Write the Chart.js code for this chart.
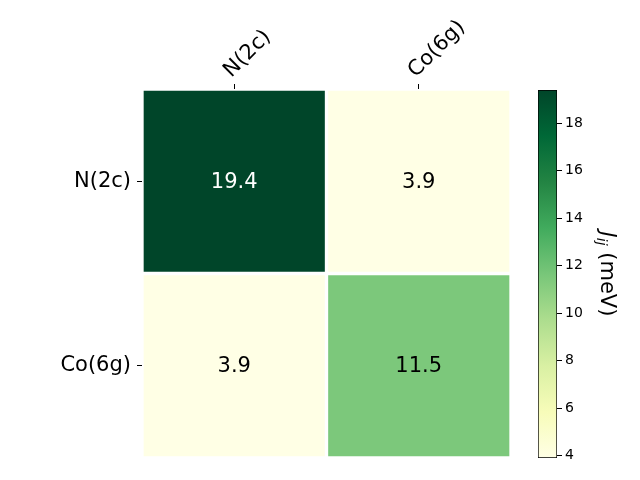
<!DOCTYPE html>
<html>
<head>
<meta charset="utf-8">
<script src="https://cdn.jsdelivr.net/npm/chart.js@4/dist/chart.umd.min.js"></script>
<style>
html, body { margin: 0; padding: 0; background: #fff; }
#wrap { position: relative; width: 640px; height: 480px; }
#wrap canvas { position: absolute; left: 0; top: 0; }
</style>
</head>
<body>
<div id="wrap">
  <canvas id="heat" width="640" height="480"></canvas>
  <canvas id="cbar" width="640" height="480"></canvas>
</div>
<script>
// Data
const siteLabels = ['N(2c)', 'Co(6g)'];
const rowN = [19.4, 3.9];
const rowCo = [3.9, 11.5];
const rows = [rowN, rowCo];
const cbTicks = [4, 6, 8, 10, 12, 14, 16, 18];

// YlGn colormap stops
const ylgn = ['#ffffe5', '#f7fcb9', '#d9f0a3', '#addd8e', '#78c679', '#41ab5d', '#238443', '#006837', '#004529'];

const allVals = rows.flat();
const vmin = Math.min(...allVals);
const vmax = Math.max(...allVals);
const FONT = 'DejaVu Sans';

function hexToRgb(h) {
    return [parseInt(h.slice(1, 3), 16), parseInt(h.slice(3, 5), 16), parseInt(h.slice(5, 7), 16)];
}

// map a value to a colour in the colormap
function cmap(v) {
    let t = (v - vmin) / (vmax - vmin);
    t = Math.max(0, Math.min(1, t)) * (ylgn.length - 1);
    const i = Math.min(Math.floor(t), ylgn.length - 2);
    const f = t - i;
    const a = hexToRgb(ylgn[i]), b = hexToRgb(ylgn[i + 1]);
    const c = a.map((x, k) => Math.round(x + (b[k] - x) * f));
    return 'rgb(' + c.join(',') + ')';
}

// Cell value labels
const cellText = {
    id: 'cellText',
    afterDatasetsDraw(chart) {
        const ctx = chart.ctx;
        const xs = chart.scales.x, ys = chart.scales.y;
        ctx.save();
        ctx.font = '21px "' + FONT + '"';
        ctx.textAlign = 'center';
        ctx.textBaseline = 'middle';
        rows.forEach((row, r) => {
            row.forEach((v, i) => {
                const t = (v - vmin) / (vmax - vmin);
                ctx.fillStyle = t > 0.5 ? '#fff' : '#000';
                ctx.fillText(v.toFixed(1), xs.getPixelForValue(i), ys.getPixelForValue(r) + 1);
            });
        });
        ctx.restore();
    }
};

const tickGrid = { display: true, drawOnChartArea: false, offset: false, tickLength: 5, color: '#000', lineWidth: 1 };

new Chart(document.getElementById('heat'), {
    type: 'bar',
    data: {
        labels: siteLabels,
        datasets: rows.map((row, r) => ({
            data: row.map(() => [r - 0.5, r + 0.5]),
            backgroundColor: row.map(v => cmap(v)),
            borderColor: '#fff',
            borderWidth: 2,
            borderSkipped: false,
            grouped: false,
            barPercentage: 1,
            categoryPercentage: 1
        }))
    },
    options: {
        responsive: false,
        animation: false,
        layout: { padding: { left: 0, right: 129, top: 0, bottom: 22 } },
        plugins: { legend: { display: false }, tooltip: { enabled: false } },
        scales: {
            x: {
                position: 'top',
                grid: tickGrid,
                border: { display: false },
                ticks: { color: '#000', font: { family: FONT, size: 21 }, minRotation: 45, maxRotation: 45, padding: 1, labelOffset: 11 },
                afterFit(s) { s.height = 89; }
            },
            y: {
                type: 'linear',
                min: -0.5,
                max: 1.5,
                reverse: true,
                afterBuildTicks(s) { s.ticks = siteLabels.map((_, i) => ({ value: i })); },
                grid: tickGrid,
                border: { display: false },
                ticks: { color: '#000', font: { family: FONT, size: 21 }, padding: 6, callback: v => siteLabels[v] },
                afterFit(s) { s.width = 142; }
            }
        }
    },
    plugins: [cellText]
});

// Colorbar title, drawn rotated
const cbTitle = {
    id: 'cbTitle',
    afterDraw(chart) {
        const ctx = chart.ctx;
        const area = chart.chartArea;
        const big = '21px "' + FONT + '"';
        const bigIt = 'italic 21px "' + FONT + '"';
        const small = 'italic 14px "' + FONT + '"';
        ctx.save();
        ctx.font = bigIt; const wJ = ctx.measureText('J').width;
        ctx.font = small; const wSub = ctx.measureText('ij').width;
        ctx.font = big; const wRest = ctx.measureText(' (meV)').width;
        const total = wJ + wSub + wRest;
        ctx.translate(area.right + 49, (area.top + area.bottom) / 2);
        ctx.rotate(Math.PI / 2);
        ctx.fillStyle = '#000';
        ctx.textBaseline = 'middle';
        ctx.textAlign = 'left';
        let x = -total / 2;
        ctx.font = bigIt; ctx.fillText('J', x, 0); x += wJ;
        ctx.font = small; ctx.fillText('ij', x, 5); x += wSub;
        ctx.font = big; ctx.fillText(' (meV)', x, 0);
        ctx.restore();
    }
};

new Chart(document.getElementById('cbar'), {
    type: 'bar',
    data: {
        labels: [''],
        datasets: [{
            data: [[vmin, vmax]],
            backgroundColor(c) {
                const chart = c.chart;
                if (!chart.chartArea) return ylgn[0];
                const ys = chart.scales.y;
                const g = chart.ctx.createLinearGradient(0, ys.getPixelForValue(vmin), 0, ys.getPixelForValue(vmax));
                ylgn.forEach((col, i) => g.addColorStop(i / (ylgn.length - 1), col));
                return g;
            },
            borderColor: '#000',
            borderWidth: 1,
            borderSkipped: false,
            barPercentage: 1,
            categoryPercentage: 1
        }]
    },
    options: {
        responsive: false,
        animation: false,
        layout: { padding: { left: 538, right: 0, top: 90, bottom: 22 } },
        plugins: { legend: { display: false }, tooltip: { enabled: false } },
        scales: {
            x: { display: false },
            y: {
                position: 'right',
                min: vmin,
                max: vmax,
                afterBuildTicks(s) { s.ticks = cbTicks.map(v => ({ value: v })); },
                grid: tickGrid,
                border: { display: false },
                ticks: { color: '#000', font: { family: FONT, size: 14 }, padding: 3 },
                afterFit(s) { s.width = 83; }
            }
        }
    },
    plugins: [cbTitle]
});
</script>
</body>
</html>
